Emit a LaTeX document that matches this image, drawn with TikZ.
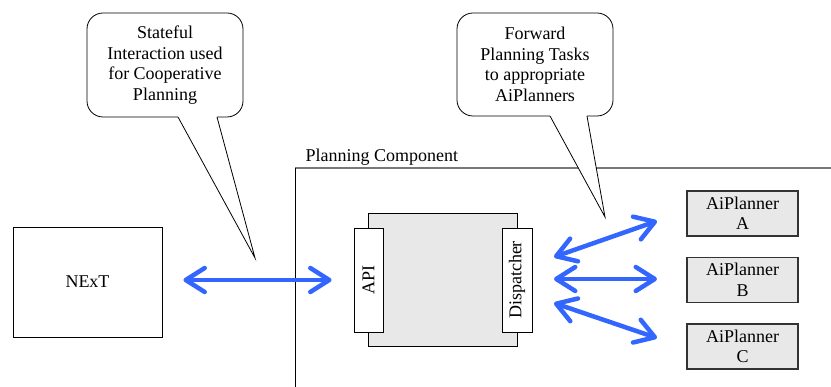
\documentclass[tikz,border=0pt]{standalone}
\usepackage{fontspec}
\setmainfont{Liberation Serif}
\usetikzlibrary{arrows.meta}
\definecolor{linkblue}{RGB}{51,102,255}
\definecolor{panelgray}{RGB}{232,232,232}
\definecolor{rulegray}{RGB}{120,120,120}
\begin{document}
\begin{tikzpicture}[x=1pt,y=-1pt,
  txt/.style={font=\rmfamily\fontsize{18}{20.5}\selectfont},
  plainbox/.style={txt, draw=black, line width=0.9pt, fill=white, inner sep=0pt},
  graybox/.style={txt, draw=black!80, line width=1.1pt, fill=panelgray, inner sep=0pt, align=center},
  barb/.tip={Straight Barb[length=19pt,width=24pt,line cap=round,line join=round]},
  biarrow/.style={draw=linkblue, line width=4.5pt, line cap=round, barb-barb},
  bubble/.style={txt, draw=black, line width=0.8pt, fill=white, rounded corners=16pt, align=center, inner sep=0pt},
  tail/.style={draw=black, line width=0.8pt, line join=miter}
]
\useasboundingbox (0,0) rectangle (831,387);

% planning component frame: grey top rule, black left rule
\draw[rulegray, line width=1.4pt] (295,168) -- (831,168);
\draw[black, line width=0.9pt] (295,387) -- (295,168);
\node[txt, anchor=base west] (pclabel) at (302,162) {Planning Component};

% external system
\node[plainbox, minimum width=149pt, minimum height=110pt] (next) at (87.5,282) {NExT};

% component core with its two ports
\node[graybox, draw=black, line width=0.9pt, minimum width=149pt, minimum height=133pt] (core) at (442.5,279.5) {};
\node[plainbox, minimum width=29pt, minimum height=104pt] (api) at (368.5,280) {};
\node[txt, rotate=90] (apitext) at (api) {API};
\node[plainbox, minimum width=30pt, minimum height=104pt] (disp) at (517,280) {};
\node[txt, rotate=90] (disptext) at (disp) {Dispatcher};

% planners
\node[graybox, minimum width=111pt, minimum height=45pt] (pa) at (742.5,213.5) {AiPlanner\\A};
\node[graybox, minimum width=111pt, minimum height=45pt] (pb) at (742.5,280) {AiPlanner\\B};
\node[graybox, minimum width=111pt, minimum height=45pt] (pc) at (742.5,346.5) {AiPlanner\\C};

% interaction arrows
\draw[biarrow, shorten <=21pt, shorten >=22pt] (next.east |- api.west) -- (api.west);
\coordinate (da) at (554,257);
\coordinate (db) at (554,279);
\coordinate (dc) at (554,303);
\coordinate (ea) at (657,221);
\coordinate (eb) at (657,279);
\coordinate (ec) at (657,338);
\draw[biarrow] (da) -- (ea);
\draw[biarrow] (db) -- (eb);
\draw[biarrow] (dc) -- (ec);

% speech bubbles
\node[bubble, minimum width=156pt, minimum height=104pt] (b1) at (165,65)
  {Stateful\\Interaction used\\for Cooperative\\Planning};
\coordinate (t1) at (255,258);
\fill[white] (178,114) -- (178,117.5) -- (t1) -- (217,117.5) -- (217,114) -- cycle;
\draw[tail] (178,117) -- (t1) -- (217,117);

\node[bubble, minimum width=156pt, minimum height=103pt] (b2) at (535,64.5)
  {Forward\\Planning Tasks\\to appropriate\\AiPlanners};
\coordinate (t2) at (605,217);
\fill[white] (550,113) -- (550,116.5) -- (t2) -- (587,116.5) -- (587,113) -- cycle;
\draw[tail] (550,116) -- (t2) -- (587,116);
\end{tikzpicture}
\end{document}
